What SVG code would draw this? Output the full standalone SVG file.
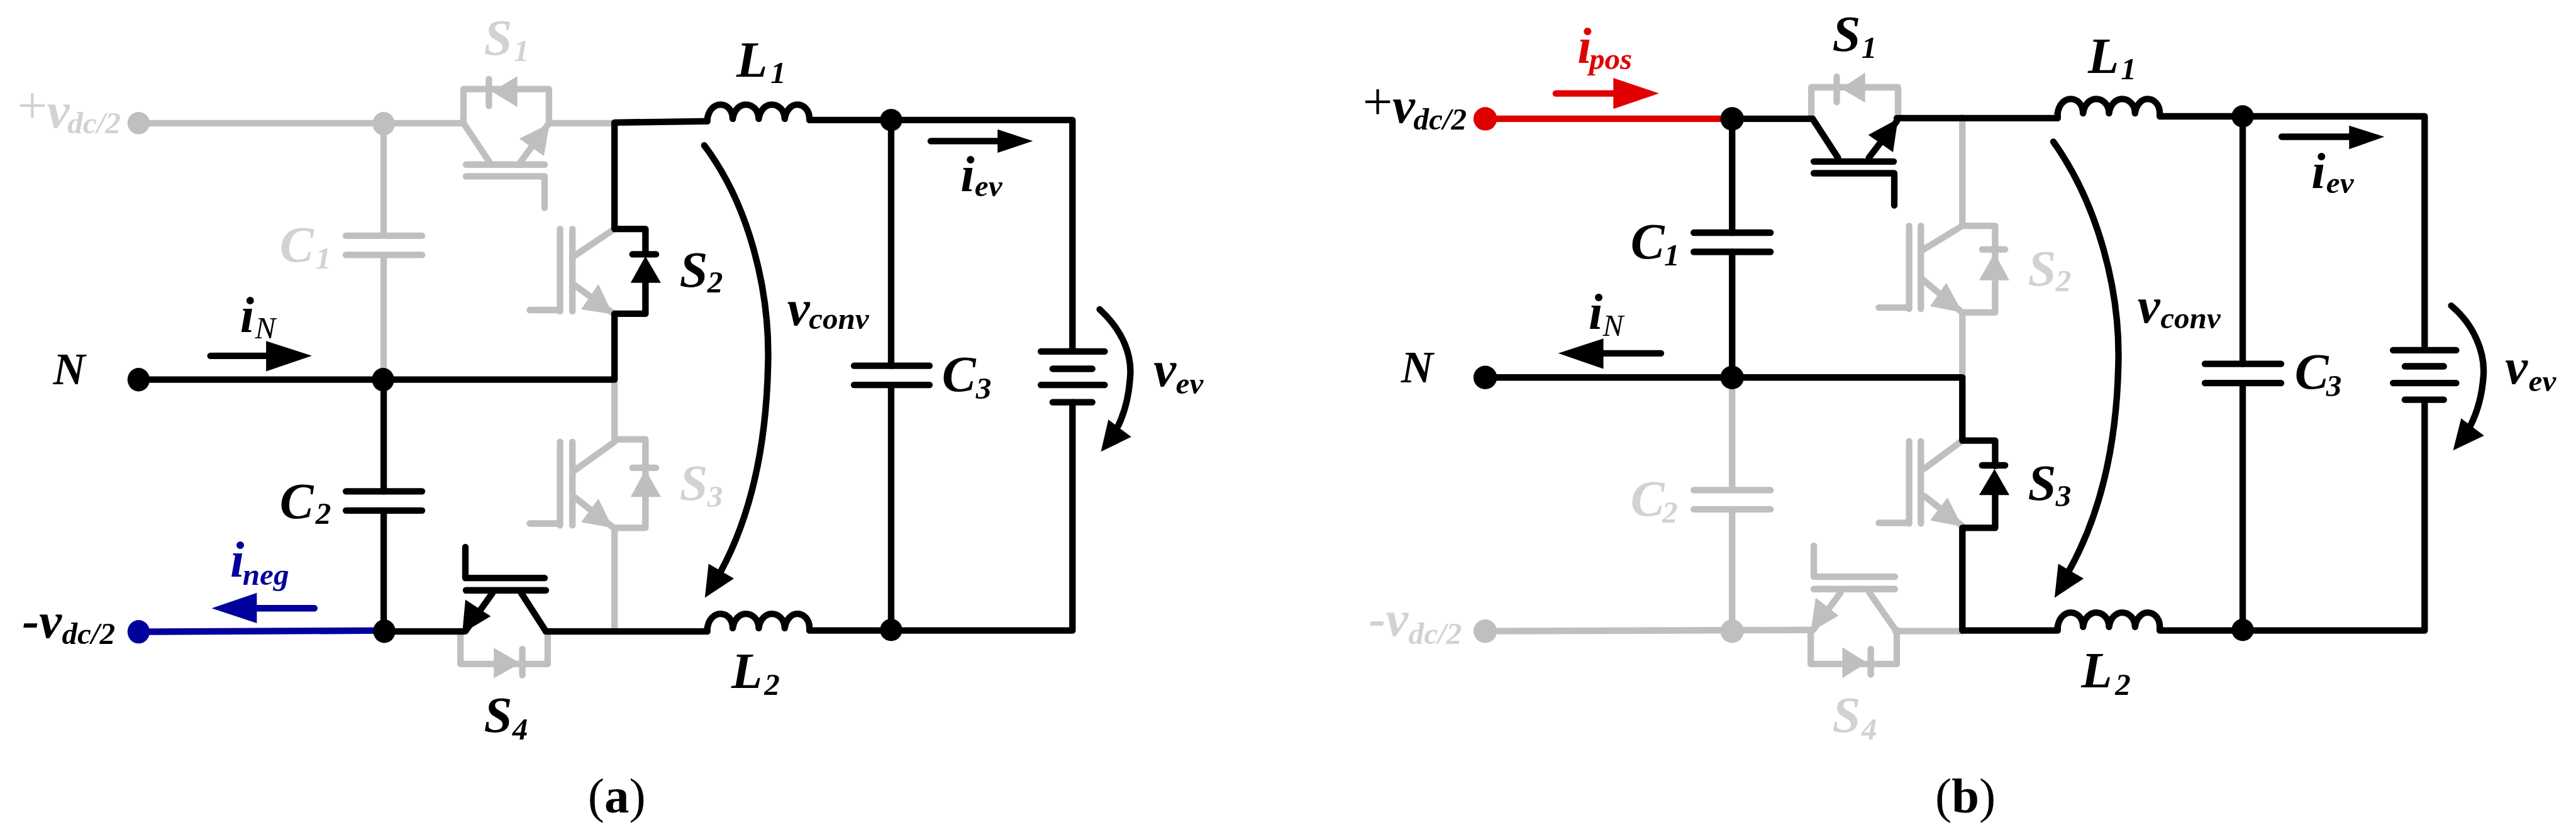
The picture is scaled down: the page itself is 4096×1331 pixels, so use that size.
<svg xmlns="http://www.w3.org/2000/svg" width="4096" height="1331" viewBox="0 0 4096 1331">
<style>
.w{fill:none;stroke-width:10.5;stroke-linecap:round;stroke-linejoin:round}
.k{stroke:#000}.g{stroke:#bfbfbf}.r{stroke:#e00000}.b{stroke:#00009c}
.fk{fill:#000}.fg{fill:#bfbfbf}.fr{fill:#e00000}.fb{fill:#00009c}
text{font-family:"Liberation Serif","Times New Roman",serif;font-style:italic;font-weight:bold;font-size:82px;fill:#000}
.tg{fill:#d2d2d2}.tr{fill:#e00000}.tb{fill:#00009c}
.s{font-size:50px}
.sr{font-size:50px;font-weight:normal}
.p{font-size:86px;font-weight:normal;font-style:normal}
.n{font-size:72px}
.cap{font-style:normal;font-weight:normal;font-size:80px}
.cap tspan{font-weight:bold}
</style>
<rect width="4096" height="1331" fill="#fff"/>
<g transform="scale(0.984)">

<g id="a-S1">
<path class="w g" d="M749,199V144H887V199"/><path class="w g" d="M790,128V171"/><polygon class="fg" points="795,148 836,123 836,173"/>
<path class="w g" d="M749,199L791,262M841,262L885,202"/><polygon class="fg" points="888,200 839,224 879,252"/>
<path class="w g" d="M753,266H880M753,285H880V336"/>
</g>
<g id="a-S2">
<path class="w g" d="M905,370V503M925,370V503M856,501H905M926,415L993,370M926,459L989,505"/>
<polygon class="fg" points="990,508 967,459 939,500"/>
<path class="w k" d="M1022,411H1060"/><polygon class="fk" points="1043,414 1019,457 1068,457"/>
</g>
<g id="a-S3">
<path class="w g" d="M905,714V849M925,714V849M856,846H905M926,762L993,714M929,804L989,851M993,710H1043V853H993"/>
<polygon class="fg" points="990,853 967,806 939,844"/>
<path class="w g" d="M1022,756H1060"/><polygon class="fg" points="1043,759 1019,803 1068,803"/>
</g>
<g id="a-S4">
<path class="w g" d="M744,1020V1073H885V1020M844,1049V1091"/><polygon class="fg" points="841,1072 798,1047 798,1096"/>
<path class="w k" d="M752,884V934H880M753,954H882M796,958L752,1020M842,958L882,1020"/>
<polygon class="fk" points="747,1023 752,969 793,996"/>
</g>
<g id="a-C1"><path class="w g" d="M559,381H682M559,412H682"/></g>
<g id="a-C2"><path class="w k" d="M559,794H682M559,825H682"/></g>
<g id="a-C3"><path class="w k" d="M1380,591H1502M1380,622H1502"/></g>
<g id="a-L1"><path class="w k" d="M1143,192c2,-14 11,-23 21,-23c10,0 20,8 20,23c2,-14 11,-23 21,-23c10,0 21,8 21,23c2,-14 11,-23 21,-23c10,0 21,8 21,23c2,-14 11,-23 20,-23c10,0 20,8 20,23"/></g>
<g id="a-L2"><path class="w k" d="M1143,1015c2,-14 11,-23 21,-23c10,0 20,8 20,23c2,-14 11,-23 21,-23c10,0 21,8 21,23c2,-14 11,-23 21,-23c10,0 21,8 21,23c2,-14 11,-23 20,-23c10,0 20,8 20,23"/></g>
<g id="a-battery"><path class="w k" d="M1682,568H1785M1701,596H1765M1682,622H1785M1701,650H1765"/></g>

<g id="b-S1">
<path class="w g" d="M2927,192V141H3067V192M2968,124V165"/><polygon class="fg" points="2975,143 3014,117 3014,166"/>
<path class="w k" d="M2929,192L2970,255M3020,255L3065,196"/><polygon class="fk" points="3067,192 3019,218 3059,246"/>
<path class="w k" d="M2931,261H3060M2931,280H3061V332"/>
</g>
<g id="b-S2">
<path class="w g" d="M3085,365V499M3104,365V499M3036,497H3085M3107,404L3171,365M3107,452L3171,505M3171,365H3224V505H3171M3203,403H3240"/>
<polygon class="fg" points="3171,505 3145,457 3119,495"/>
<polygon class="fg" points="3223,409 3198,453 3247,453"/>
</g>
<g id="b-S3">
<path class="w g" d="M3085,713V846M3104,713V846M3036,845H3085M3110,757L3171,712M3110,802L3171,850"/>
<polygon class="fg" points="3171,851 3147,804 3119,841"/>
<path class="w k" d="M3203,752H3240"/><polygon class="fk" points="3223,758 3198,800 3247,800"/>
</g>
<g id="b-S4">
<path class="w g" d="M2926,1018V1073H3065V1018M3023,1049V1090M2931,882V932H3062M2931,952H3062M2974,958L2930,1018M3021,958L3063,1018"/>
<polygon class="fg" points="3017,1071 2977,1046 2977,1096"/>
<polygon class="fg" points="2926,1021 2934,966 2971,995"/>
</g>
<g id="b-C1"><path class="w k" d="M2737,376H2861M2737,407H2861"/></g>
<g id="b-C2"><path class="w g" d="M2737,792H2861M2737,823H2861"/></g>
<g id="b-C3"><path class="w k" d="M3563,588H3686M3563,619H3686"/></g>
<g id="b-L1"><path class="w k" d="M3325,183c2,-14 11,-23 21,-23c10,0 20,8 20,23c2,-14 11,-23 21,-23c10,0 21,8 21,23c2,-14 11,-23 21,-23c10,0 21,8 21,23c2,-14 11,-23 20,-23c10,0 20,8 20,23"/></g>
<g id="b-L2"><path class="w k" d="M3325,1013c2,-14 11,-23 21,-23c10,0 20,8 20,23c2,-14 11,-23 21,-23c10,0 21,8 21,23c2,-14 11,-23 21,-23c10,0 21,8 21,23c2,-14 11,-23 20,-23c10,0 20,8 20,23"/></g>
<g id="b-battery"><path class="w k" d="M3867,566H3969M3886,592H3949M3867,619H3969M3886,646H3949"/></g>

<g id="connectors">
<path class="w g" d="M224,199H749M887,199H993M620,200V381M620,412V613M993,613V710M993,853V1020"/>
<path class="w k" d="M1043,370H993V198L1137,196H1143V192M1308,192V194H1733V564M1043,370V411M1043,455V507H993V613.5H224M620,613V794M620,825V1020.5H749M882,1020.5H1143V1015M1308,1015V1019H1733V650M1440,194V591M1440,622V1018"/>
<path class="w b" d="M224,1021L621,1019"/>
<path class="w g" d="M2799,610V792M2799,823V1020M2400,1020L2928,1018M3063,1020H3171M3171,190V365M3171,505V612M3171,850V1018"/>
<path class="w r" d="M2400,192H2799"/>
<path class="w k" d="M2799,192H2929M3065,191H3320H3325V183M3490,183V188H3918V560M2799,192V376M2799,407V610M2400,610H3171L3171,712H3224V753M3224,797V853H3171V1019H3325V1013M3490,1013V1019H3918V652M3624,188V588M3624,619V1018"/>
<path class="w k" d="M340,575H431M1504,228H1612M2591,571H2684M3687,221H3796"/>
<polygon class="fk" points="504,575 430,551 430,600"/>
<polygon class="fk" points="1669,228 1612,209 1612,247"/>
<polygon class="fk" points="2518,571 2591,547 2591,596"/>
<polygon class="fk" points="3853,221 3796,203 3796,241"/>
<path class="w b" d="M415,983H508"/><polygon class="fb" points="342,983 415,958 415,1007"/>
<path class="w r" d="M2514,151H2607"/><polygon class="fr" points="2681,151 2607,126 2607,176"/>
<path class="w k" d="M1138,235C1210,330 1245,470 1241,592C1238,720 1215,830 1165,923"/><polygon class="fk" points="1139,966 1145,911 1186,935"/>
<path class="w k" d="M3318,229C3390,330 3427,470 3423,592C3420,720 3395,830 3343,923"/><polygon class="fk" points="3320,966 3326,911 3367,935"/>
<path class="w k" d="M1777,500C1815,535 1830,575 1826,612C1824,640 1818,665 1807,688"/><polygon class="fk" points="1779,730 1791,678 1828,706"/>
<path class="w k" d="M3961,494C3998,525 4016,570 4013,608C4011,636 4004,664 3992,688"/><polygon class="fk" points="3964,728 3977,676 4014,704"/>
</g>

<g id="a-junctions"><ellipse class="fg" cx="224" cy="199" rx="18" ry="18"/><ellipse class="fg" cx="620" cy="200" rx="18" ry="19"/><ellipse class="fk" cx="224" cy="613.5" rx="18" ry="19"/><ellipse class="fk" cx="619" cy="613.5" rx="18" ry="19"/><ellipse class="fb" cx="224" cy="1021" rx="18" ry="19"/><ellipse class="fk" cx="621" cy="1020" rx="18" ry="19"/><ellipse class="fk" cx="1440" cy="194" rx="18" ry="18"/><ellipse class="fk" cx="1440" cy="1018" rx="18" ry="18"/></g>
<g id="b-junctions"><ellipse class="fr" cx="2400" cy="192" rx="19" ry="19"/><ellipse class="fk" cx="2799" cy="192" rx="19" ry="19"/><ellipse class="fk" cx="2400" cy="610" rx="19" ry="19"/><ellipse class="fk" cx="2799" cy="610" rx="19" ry="19"/><ellipse class="fg" cx="2400" cy="1020" rx="19" ry="19"/><ellipse class="fg" cx="2799" cy="1020" rx="19" ry="19"/><ellipse class="fk" cx="3624" cy="188" rx="18" ry="18"/><ellipse class="fk" cx="3624" cy="1018" rx="18" ry="18"/></g>

<g id="a-labels">
<text class="tg" x="782" y="88">S<tspan class="s" x="830" y="99">1</tspan></text>
<text x="1098" y="463">S<tspan class="s" x="1143" y="473">2</tspan></text>
<text class="tg" x="1098" y="808">S<tspan class="s" x="1143" y="819">3</tspan></text>
<text x="782" y="1183">S<tspan class="s" x="828" y="1195">4</tspan></text>
<text class="tg" x="452" y="423">C<tspan class="s" x="510" y="434">1</tspan></text>
<text x="452" y="837">C<tspan class="s" x="510" y="847">2</tspan></text>
<text x="1522" y="632">C<tspan class="s" x="1577" y="644">3</tspan></text>
<text class="tg" x="76" y="206"><tspan class="p" x="28" y="199">+</tspan><tspan x="76" y="206">v</tspan><tspan class="s" x="109" y="215">dc/2</tspan></text>
<text x="36" y="1030">-v<tspan class="s" x="100" y="1041">dc/2</tspan></text>
<text class="n" x="86" y="621">N</text>
<text x="388" y="537">i<tspan class="sr" x="412" y="547">N</tspan></text>
<text class="tb" x="372" y="932">i<tspan class="s" x="392" y="945">neg</tspan></text>
<text x="1190" y="124">L<tspan class="s" x="1245" y="134">1</tspan></text>
<text x="1182" y="1112">L<tspan class="s" x="1235" y="1123">2</tspan></text>
<text x="1272" y="525">v<tspan class="s" x="1307" y="532">conv</tspan></text>
<text x="1552" y="309">i<tspan class="s" x="1575" y="317">ev</tspan></text>
<text x="1864" y="624">v<tspan class="s" x="1900" y="636">ev</tspan></text>
<text class="cap" x="950" y="1313">(<tspan>a</tspan>)</text>
</g>
<g id="b-labels">
<text x="2961" y="82">S<tspan class="s" x="3008" y="93">1</tspan></text>
<text class="tg" x="3277" y="461">S<tspan class="s" x="3322" y="471">2</tspan></text>
<text x="3277" y="808">S<tspan class="s" x="3322" y="818">3</tspan></text>
<text class="tg" x="2961" y="1183">S<tspan class="s" x="3008" y="1195">4</tspan></text>
<text x="2635" y="418">C<tspan class="s" x="2689" y="429">1</tspan></text>
<text class="tg" x="2635" y="833">C<tspan class="s" x="2686" y="845">2</tspan></text>
<text x="3708" y="628">C<tspan class="s" x="3759" y="640">3</tspan></text>
<text x="2252" y="198"><tspan class="p" x="2202" y="193">+</tspan><tspan x="2250" y="198">v</tspan><tspan class="s" x="2284" y="209">dc/2</tspan></text>
<text class="tg" x="2212" y="1027">-v<tspan class="s" x="2276" y="1041">dc/2</tspan></text>
<text class="n" x="2264" y="618">N</text>
<text x="2567" y="532">i<tspan class="sr" x="2590" y="543">N</tspan></text>
<text class="tr" x="2549" y="102">i<tspan class="s" x="2568" y="112">pos</tspan></text>
<text x="3374" y="118">L<tspan class="s" x="3427" y="128">1</tspan></text>
<text x="3363" y="1111">L<tspan class="s" x="3418" y="1123">2</tspan></text>
<text x="3454" y="521">v<tspan class="s" x="3491" y="530">conv</tspan></text>
<text x="3735" y="304">i<tspan class="s" x="3759" y="312">ev</tspan></text>
<text x="4048" y="620">v<tspan class="s" x="4086" y="632">ev</tspan></text>
<text class="cap" x="3127" y="1313">(<tspan>b</tspan>)</text>
</g>
</g>
</svg>
